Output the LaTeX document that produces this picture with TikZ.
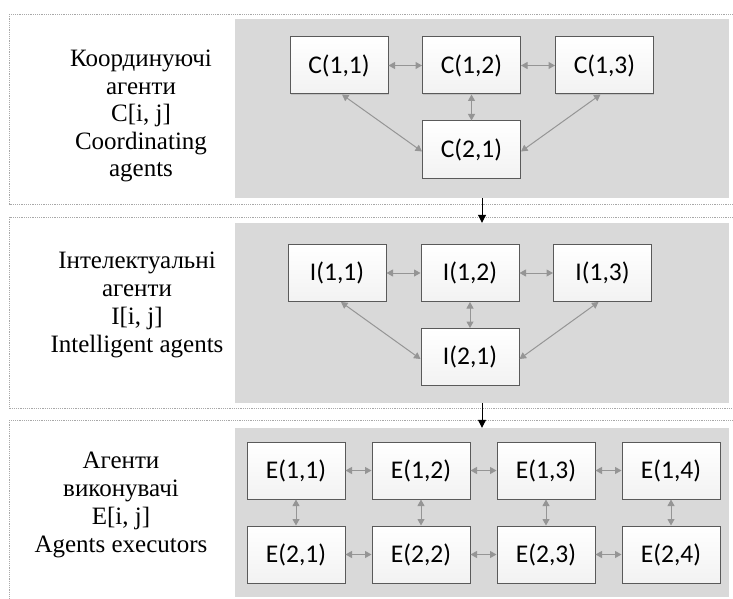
\documentclass[tikz,border=0pt]{standalone}
\usepackage{fontspec}
\setmainfont{Liberation Serif}
\newfontfamily\boxfont{Carlito}
\usetikzlibrary{arrows.meta,shadows}
\definecolor{panelgray}{HTML}{D9D9D9}
\definecolor{boxborder}{HTML}{5A5A5A}
\definecolor{linkgray}{HTML}{959595}
\definecolor{dashgray}{HTML}{A8A8A8}
\tikzset{
  outerbox/.style={draw=dashgray, line width=0.8pt, dash pattern=on 1.2pt off 1pt},
  panel/.style={fill=panelgray, draw=none, inner sep=0pt},
  agent/.style={draw=boxborder, line width=1pt, top color=white, bottom color=gray!10,
    minimum width=98pt, minimum height=57pt, inner sep=0pt,
    font=\boxfont\fontsize{25.5}{28}\selectfont,
    drop shadow={shadow xshift=0.8pt, shadow yshift=-0.8pt, fill=gray!60, opacity=0.6}},
  link/.style={draw=linkgray, line width=1pt,
    {Triangle[width=7pt,length=6.5pt]}-{Triangle[width=7pt,length=6.5pt]}},
  flow/.style={draw=black, line width=1pt, -{Triangle[width=8pt,length=8pt]}},
  label/.style={align=center, inner sep=0pt}
}
\begin{document}
\begin{tikzpicture}[x=1pt,y=-1pt]
\useasboundingbox (0,0) rectangle (733,599);
% outer dashed frames
\draw[outerbox] (9,14) rectangle (740,204);
\draw[outerbox] (9,217) rectangle (740,408);
\draw[outerbox] (9,420) rectangle (740,610);
% gray panels
\node[panel, minimum width=494pt, minimum height=179pt] (g1) at (482,108.5) {};
\node[panel, minimum width=494pt, minimum height=180pt] (g2) at (482,313) {};
\node[panel, minimum width=494pt, minimum height=169pt] (g3) at (482,512.5) {};
% labels
\node[label, font=\fontsize{25}{27.5}\selectfont] (t1) at (141,116) {Координуючі\\агенти\\C[i, j]\\Coordinating\\agents};
\node[label, font=\fontsize{25}{28}\selectfont] (t2) at (137,305) {Інтелектуальні\\агенти\\I[i, j]\\Intelligent agents};
\node[label, font=\fontsize{25}{28}\selectfont] (t3) at (121,505) {Агенти\\виконувачі\\E[i, j]\\Agents executors};
% coordinating agents
\node[agent] (c11) at (339,65.5) {C(1,1)};
\node[agent] (c12) at (471.5,65.5) {C(1,2)};
\node[agent] (c13) at (604.5,65.5) {C(1,3)};
\node[agent] (c21) at (471.5,149.5) {C(2,1)};
% intelligent agents
\node[agent] (i11) at (337,273) {I(1,1)};
\node[agent] (i12) at (470,273) {I(1,2)};
\node[agent] (i13) at (602.5,273) {I(1,3)};
\node[agent] (i21) at (470,357) {I(2,1)};
% executors
\node[agent] (e11) at (296,470.5) {E(1,1)};
\node[agent] (e12) at (421,470.5) {E(1,2)};
\node[agent] (e13) at (546,470.5) {E(1,3)};
\node[agent] (e14) at (671,470.5) {E(1,4)};
\node[agent] (e21) at (296,554.5) {E(2,1)};
\node[agent] (e22) at (421,554.5) {E(2,2)};
\node[agent] (e23) at (546,554.5) {E(2,3)};
\node[agent] (e24) at (671,554.5) {E(2,4)};
% links C
\draw[link] (c11) -- (c12);
\draw[link] (c12) -- (c13);
\draw[link] (c12) -- (c21);
\draw[link] ([xshift=3pt]c11.south) -- ([yshift=-2pt]c21.west);
\draw[link] ([xshift=-4pt]c13.south) -- ([yshift=-2pt]c21.east);
% links I
\draw[link] (i11) -- (i12);
\draw[link] (i12) -- (i13);
\draw[link] (i12) -- (i21);
\draw[link] ([xshift=4pt]i11.south) -- ([yshift=-2pt]i21.west);
\draw[link] ([xshift=-4pt]i13.south) -- ([yshift=-2pt]i21.east);
% links E
\draw[link] (e11) -- (e12);
\draw[link] (e12) -- (e13);
\draw[link] (e13) -- (e14);
\draw[link] (e21) -- (e22);
\draw[link] (e22) -- (e23);
\draw[link] (e23) -- (e24);
\draw[link] (e11) -- (e21);
\draw[link] (e12) -- (e22);
\draw[link] (e13) -- (e23);
\draw[link] (e14) -- (e24);
% flow arrows
\draw[flow] (g1.south) -- (g2.north);
\draw[flow] (g2.south) -- (g3.north);
\end{tikzpicture}
\end{document}
